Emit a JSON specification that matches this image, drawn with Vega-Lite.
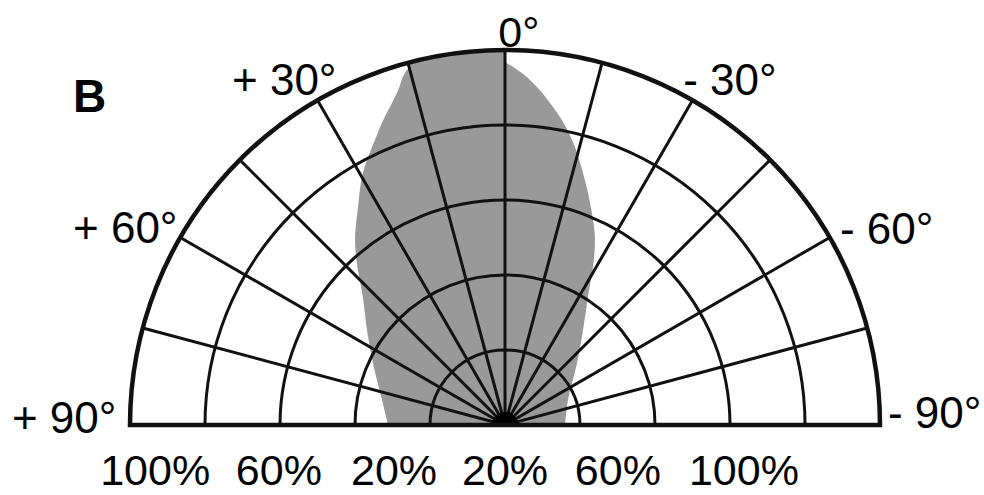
{
  "$schema": "https://vega.github.io/schema/vega-lite/v6.json",
  "width": 750,
  "height": 375,
  "autosize": {"type": "none"},
  "padding": {"left": 130, "top": 50, "right": 104, "bottom": 70},
  "background": "white",
  "config": {"view": {"stroke": null}},
  "layer": [
    {
      "data": {"values": [
        {"height": 0, "left": -31.2, "right": 16.0},
        {"height": 6.7, "left": -32.8, "right": 16.8},
        {"height": 16.5, "left": -35.2, "right": 19.2},
        {"height": 25.3, "left": -36.8, "right": 20.8},
        {"height": 34.1, "left": -37.9, "right": 22.1},
        {"height": 43.2, "left": -39.5, "right": 23.6},
        {"height": 49.3, "left": -40.0, "right": 24.0},
        {"height": 58.1, "left": -39.2, "right": 22.9},
        {"height": 67.2, "left": -37.9, "right": 20.8},
        {"height": 76.0, "left": -34.7, "right": 17.9},
        {"height": 81.3, "left": -32.5, "right": 15.2},
        {"height": 84.8, "left": -30.7, "right": 12.8},
        {"height": 89.3, "left": -28.5, "right": 9.3},
        {"height": 93.9, "left": -26.7, "right": 4.5},
        {"height": 95.7, "left": -25.4, "right": 1.9},
        {"height": 96.8, "left": -25.1, "right": 0.2},
        {"height": 98.1, "left": -19.2, "right": 0},
        {"height": 99.2, "left": -12.5, "right": 0},
        {"height": 99.7, "left": -7.2, "right": 0}
      ]},
      "mark": {"type": "area", "orient": "horizontal", "color": "#999999", "interpolate": "monotone"},
      "encoding": {
        "y": {"field": "height", "type": "quantitative", "scale": {"domain": [0, 100], "nice": false, "zero": false}, "axis": null},
        "x": {"field": "left", "type": "quantitative", "scale": {"domain": [-100, 100], "nice": false, "zero": false}, "axis": null},
        "x2": {"field": "right"}
      }
    },
    {
      "data": {"values": [{"r": 20}, {"r": 40}, {"r": 60}, {"r": 80}]},
      "mark": {"type": "arc", "filled": false, "stroke": "#111111", "strokeWidth": 3, "theta": -1.5707963, "theta2": 1.5707963},
      "encoding": {
        "x": {"datum": 0, "type": "quantitative", "scale": {"domain": [-100, 100], "nice": false, "zero": false}, "axis": null},
        "y": {"datum": 0, "type": "quantitative", "scale": {"domain": [0, 100], "nice": false, "zero": false}, "axis": null},
        "radius": {"field": "r", "type": "quantitative", "stack": null, "scale": {"type": "linear", "domain": [0, 100], "range": [0, 375], "zero": true}}
      }
    },
    {
      "data": {"values": [
        {"angle": -75}, {"angle": -60}, {"angle": -45}, {"angle": -30}, {"angle": -15}, {"angle": 0},
        {"angle": 15}, {"angle": 30}, {"angle": 45}, {"angle": 60}, {"angle": 75}
      ]},
      "mark": {"type": "arc", "filled": false, "stroke": "#111111", "strokeWidth": 3},
      "encoding": {
        "x": {"datum": 0, "type": "quantitative", "scale": {"domain": [-100, 100], "nice": false, "zero": false}, "axis": null},
        "y": {"datum": 0, "type": "quantitative", "scale": {"domain": [0, 100], "nice": false, "zero": false}, "axis": null},
        "theta": {"field": "angle", "type": "quantitative", "stack": null, "scale": {"type": "linear", "domain": [-180, 180], "range": [-3.14159265, 3.14159265]}},
        "theta2": {"field": "angle"},
        "radius": {"datum": 100, "type": "quantitative", "scale": {"type": "linear", "domain": [0, 100], "range": [0, 375], "zero": true}}
      }
    },
    {
      "data": {"values": [{"r": 3.5}]},
      "mark": {"type": "arc", "color": "#000000", "theta": -1.5707963, "theta2": 1.5707963},
      "encoding": {
        "x": {"datum": 0, "type": "quantitative", "scale": {"domain": [-100, 100], "nice": false, "zero": false}, "axis": null},
        "y": {"datum": 0, "type": "quantitative", "scale": {"domain": [0, 100], "nice": false, "zero": false}, "axis": null},
        "radius": {"field": "r", "type": "quantitative", "stack": null, "scale": {"type": "linear", "domain": [0, 100], "range": [0, 375], "zero": true}}
      }
    },
    {
      "data": {"values": [{"r": 100}]},
      "mark": {"type": "arc", "filled": false, "stroke": "#111111", "strokeWidth": 4.5, "theta": -1.5707963, "theta2": 1.5707963},
      "encoding": {
        "x": {"datum": 0, "type": "quantitative", "scale": {"domain": [-100, 100], "nice": false, "zero": false}, "axis": null},
        "y": {"datum": 0, "type": "quantitative", "scale": {"domain": [0, 100], "nice": false, "zero": false}, "axis": null},
        "radius": {"field": "r", "type": "quantitative", "stack": null, "scale": {"type": "linear", "domain": [0, 100], "range": [0, 375], "zero": true}}
      }
    },
    {
      "data": {"values": [
        {"label": "+ 30°", "px": -72.8, "py": 88},
        {"label": "- 30°", "px": 47.5, "py": 88},
        {"label": "+ 60°", "px": -115.2, "py": 48.5},
        {"label": "- 60°", "px": 89.3, "py": 48.3},
        {"label": "+ 90°", "px": -131.5, "py": -2.1},
        {"label": "- 90°", "px": 102.1, "py": -0.8}
      ]},
      "mark": {"type": "text", "align": "left", "baseline": "alphabetic", "font": "Liberation Sans", "fontSize": 44, "color": "#000000"},
      "encoding": {
        "x": {"field": "px", "type": "quantitative", "scale": {"domain": [-100, 100], "nice": false, "zero": false}, "axis": null},
        "y": {"field": "py", "type": "quantitative", "scale": {"domain": [0, 100], "nice": false, "zero": false}, "axis": null},
        "text": {"field": "label"}
      }
    },
    {
      "data": {"values": [
        {"label": "0°", "px": 3.7, "py": 100.8},
        {"label": "100%", "px": -93.3, "py": -16.0},
        {"label": "60%", "px": -60.3, "py": -16.0},
        {"label": "20%", "px": -29.6, "py": -16.0},
        {"label": "20%", "px": 0, "py": -16.0},
        {"label": "60%", "px": 30.1, "py": -16.0},
        {"label": "100%", "px": 63.7, "py": -16.0}
      ]},
      "mark": {"type": "text", "align": "center", "baseline": "alphabetic", "font": "Liberation Sans", "fontSize": 43, "color": "#000000"},
      "encoding": {
        "x": {"field": "px", "type": "quantitative", "scale": {"domain": [-100, 100], "nice": false, "zero": false}, "axis": null},
        "y": {"field": "py", "type": "quantitative", "scale": {"domain": [0, 100], "nice": false, "zero": false}, "axis": null},
        "text": {"field": "label"}
      }
    },
    {
      "data": {"values": [{"label": "B", "px": -115.2, "py": 83.5}]},
      "mark": {"type": "text", "align": "left", "baseline": "alphabetic", "font": "Liberation Sans", "fontSize": 46, "fontWeight": "bold", "color": "#000000"},
      "encoding": {
        "x": {"field": "px", "type": "quantitative", "scale": {"domain": [-100, 100], "nice": false, "zero": false}, "axis": null},
        "y": {"field": "py", "type": "quantitative", "scale": {"domain": [0, 100], "nice": false, "zero": false}, "axis": null},
        "text": {"field": "label"}
      }
    }
  ]
}
